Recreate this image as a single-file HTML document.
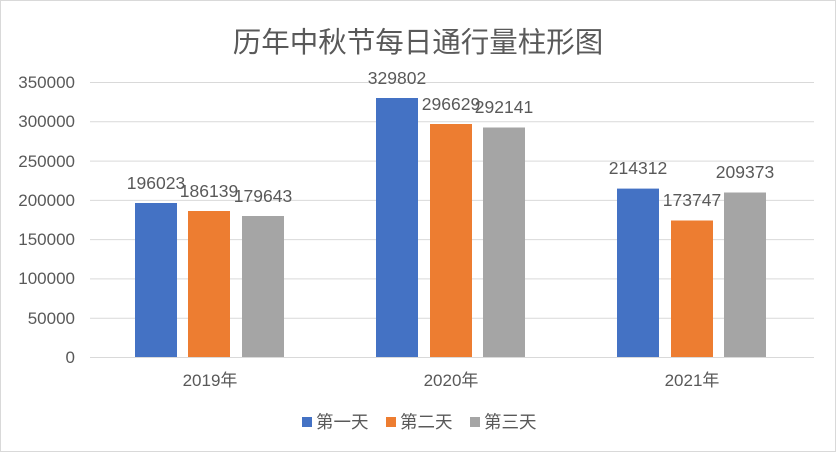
<!DOCTYPE html>
<html><head><meta charset="utf-8"><style>
html,body{margin:0;padding:0;background:#fff}
svg{display:block}
text{font-family:"Liberation Sans","Noto Sans CJK SC",sans-serif;fill:#595959}
</style></head><body>
<svg width="836" height="452" viewBox="0 0 836 452" xmlns="http://www.w3.org/2000/svg">
<rect x="0.5" y="0.5" width="835" height="451" fill="#fff" stroke="#d9d9d9"/>
<text x="418" y="52" font-size="28.5" text-anchor="middle">历年中秋节每日通行量柱形图</text>
<g stroke="#d9d9d9" stroke-width="1">
<line x1="90" x2="814" y1="82.5" y2="82.5"/>
<line x1="90" x2="814" y1="121.8" y2="121.8"/>
<line x1="90" x2="814" y1="161.1" y2="161.1"/>
<line x1="90" x2="814" y1="200.4" y2="200.4"/>
<line x1="90" x2="814" y1="239.6" y2="239.6"/>
<line x1="90" x2="814" y1="278.9" y2="278.9"/>
<line x1="90" x2="814" y1="318.2" y2="318.2"/>
<line x1="90" x2="814" y1="357.5" y2="357.5"/>
</g>
<g font-size="17" text-anchor="end">
<text x="75" y="88">350000</text>
<text x="75" y="127">300000</text>
<text x="75" y="167">250000</text>
<text x="75" y="206">200000</text>
<text x="75" y="245">150000</text>
<text x="75" y="284">100000</text>
<text x="75" y="324">50000</text>
<text x="75" y="363">0</text>
</g>
<g>
<rect x="135" y="203" width="42" height="154" fill="#4472c4"/>
<rect x="188" y="211" width="42" height="146" fill="#ed7d31"/>
<rect x="242" y="216" width="42" height="141" fill="#a5a5a5"/>
<rect x="376" y="98" width="42" height="259" fill="#4472c4"/>
<rect x="430" y="124" width="42" height="233" fill="#ed7d31"/>
<rect x="483" y="127.5" width="42" height="229.5" fill="#a5a5a5"/>
<rect x="617" y="188.6" width="42" height="168.4" fill="#4472c4"/>
<rect x="671" y="220.5" width="42" height="136.5" fill="#ed7d31"/>
<rect x="724" y="192.5" width="42" height="164.5" fill="#a5a5a5"/>
</g>
<g font-size="17.5" text-anchor="middle">
<text x="156" y="189">196023</text>
<text x="209" y="197">186139</text>
<text x="263" y="202">179643</text>
<text x="397" y="84">329802</text>
<text x="451" y="110">296629</text>
<text x="504" y="113">292141</text>
<text x="638" y="174">214312</text>
<text x="692" y="206">173747</text>
<text x="745" y="178">209373</text>
</g>
<g font-size="17" text-anchor="middle">
<text x="210" y="386">2019年</text>
<text x="451" y="386">2020年</text>
<text x="692" y="386">2021年</text>
</g>
<g font-size="17.5">
<rect x="302" y="417" width="10" height="10" fill="#4472c4"/><text x="316" y="428">第一天</text>
<rect x="386" y="417" width="10" height="10" fill="#ed7d31"/><text x="400" y="428">第二天</text>
<rect x="470" y="417" width="10" height="10" fill="#a5a5a5"/><text x="484" y="428">第三天</text>
</g>
</svg>
</body></html>
